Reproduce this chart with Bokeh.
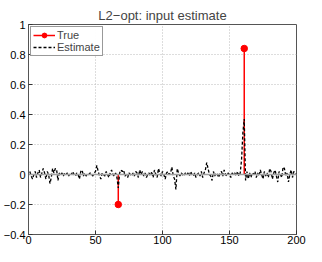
from bokeh.plotting import figure
from bokeh.models import Span, FixedTicker, Legend, LegendItem, CustomJSTickFormatter
from bokeh.embed import file_html
from bokeh.resources import INLINE

# ---- data ----
true_x = [67, 161]
true_y = [-0.2, 0.84]

est_y = [
    0.02, -0.01, -0.03, 0.00, 0.02, -0.02, 0.01, 0.03, -0.02, 0.01,
    0.04, 0.01, -0.03, 0.02, 0.00, -0.06, -0.02, 0.04, 0.01, 0.04,
    0.03, -0.04, 0.01, 0.00, 0.01, -0.01, 0.01, 0.00, 0.01, -0.01,
    0.01, 0.00, 0.02, 0.00, -0.01, 0.01, 0.00, -0.03, 0.02, 0.03,
    -0.01, 0.01, -0.01, 0.00, 0.00, 0.01, 0.00, -0.01, 0.01, 0.02,
    0.06, 0.02, -0.01, -0.03, 0.01, 0.00, -0.01, 0.02, 0.00, -0.02,
    0.01, 0.03, 0.00, -0.01, 0.01, -0.02, -0.09, 0.01, 0.03, 0.02,
    0.03, -0.01, 0.00, -0.02, 0.01, 0.00, -0.01, 0.01, -0.01, 0.02,
    0.01, -0.02, 0.03, 0.00, 0.02, -0.01, 0.01, -0.02, 0.00, 0.01,
    -0.01, 0.02, -0.02, 0.03, 0.00, -0.02, 0.04, 0.01, -0.01, 0.02,
    0.00, -0.03, 0.01, 0.02, 0.00, 0.01, 0.05, -0.01, -0.03, -0.10,
    0.04, 0.01, -0.01, 0.01, 0.00, -0.01, 0.01, 0.00, 0.01, -0.01,
    0.02, 0.00, -0.01, 0.01, -0.02, 0.00, 0.01, -0.01, 0.02, -0.02,
    0.01, 0.03, 0.08, 0.04, 0.00, -0.01, -0.04, 0.02, -0.01, 0.01,
    0.00, -0.02, 0.01, 0.02, -0.01, 0.03, 0.00, -0.01, 0.01, 0.00,
    -0.02, 0.01, 0.00, 0.01, -0.01, 0.02, -0.01, 0.01, 0.10, 0.28,
    0.37, -0.04, 0.02, -0.03, 0.01, -0.02, 0.01, 0.00, 0.02, -0.02,
    0.01, -0.01, 0.03, 0.00, -0.03, 0.02, -0.01, 0.01, -0.02, 0.04,
    0.02, -0.03, 0.01, 0.03, -0.01, -0.05, 0.02, 0.00, -0.02, 0.05,
    0.04, -0.01, 0.01, -0.05, 0.00, 0.03, -0.02, 0.02, 0.01, 0.00,
]
est_x = list(range(1, len(est_y) + 1))

x_ticks = [0, 50, 100, 150, 200]
y_ticks = [-0.4, -0.2, 0, 0.2, 0.4, 0.6, 0.8, 1]

FONT = "Liberation Sans"

p = figure(width=306, height=246, x_range=(0, 200), y_range=(-0.4, 1),
           output_backend="svg", toolbar_location=None,
           min_border_left=22, min_border_right=10, min_border_top=24, min_border_bottom=0)

p.title.text = "L2\u2212opt: input estimate"
p.title.align = "center"
p.title.text_font = FONT
p.title.text_font_size = "13px"
p.title.text_font_style = "normal"
p.title.standoff = 4

p.outline_line_color = "#555555"
p.outline_line_width = 1
p.background_fill_color = "white"
p.border_fill_color = "white"

fmt = CustomJSTickFormatter(code="""
var s = (Math.abs(tick) < 1e-9) ? '0' : String(Math.round(tick*10)/10);
return s.replace('-', '\u2212');
""")

for ax in p.xaxis:
    ax.ticker = FixedTicker(ticks=x_ticks)
for ax in p.yaxis:
    ax.ticker = FixedTicker(ticks=y_ticks)
    ax.formatter = fmt
for ax in list(p.xaxis) + list(p.yaxis):
    ax.major_tick_in = 4
    ax.major_tick_out = 0
    ax.minor_tick_line_color = None
    ax.axis_line_color = "#555555"
    ax.major_tick_line_color = "#333333"
    ax.major_label_text_font = FONT
    ax.major_label_text_font_size = "11px"
    ax.major_label_text_color = "black"
p.xaxis.major_label_standoff = 1
p.yaxis.major_label_standoff = 3

p.grid.grid_line_color = "#bbbbbb"
p.grid.grid_line_dash = "1 2"
p.xgrid.ticker = FixedTicker(ticks=x_ticks)
p.ygrid.ticker = FixedTicker(ticks=y_ticks)

# baseline
p.add_layout(Span(location=0, dimension="width", line_color="#a0a0a0", line_width=1.5))

# true stems
stem = p.segment(x0=true_x, y0=[0, 0], x1=true_x, y1=true_y, line_color="red", line_width=1.5)
mk = p.scatter(true_x, true_y, size=6.5, color="red")

# estimate
est = p.line(est_x, est_y, line_color="black", line_width=1.3, line_dash="3 2")

legend = Legend(items=[LegendItem(label="True", renderers=[stem, mk]),
                       LegendItem(label="Estimate", renderers=[est])],
                location="top_left")
legend.label_text_font = FONT
legend.label_text_font_size = "11px"
legend.border_line_color = "#333333"
legend.border_line_width = 1
legend.margin = 2
legend.padding = 2
legend.spacing = 0
legend.glyph_width = 22
legend.glyph_height = 12
legend.label_standoff = 2
legend.label_height = 12
p.add_layout(legend)

open("out.html", "w").write(file_html(p, INLINE))
